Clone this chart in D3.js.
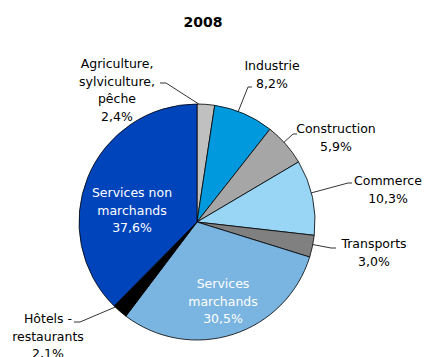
<!DOCTYPE html>
<html>
<head>
<meta charset="utf-8">
<script src="https://cdn.jsdelivr.net/npm/d3@7"></script>
<style>
  body { margin: 0; background: #fff; }
  text { font-family: "DejaVu Sans", Verdana, sans-serif; }
</style>
</head>
<body>
<svg id="chart" width="426" height="357"></svg>
<script>
// Répartition de l'emploi par secteur, 2008
const sectors = ["Agriculture, sylviculture, pêche", "Industrie", "Construction", "Commerce",
                 "Transports", "Services marchands", "Hôtels - restaurants", "Services non marchands"];
const shares = [2.4, 8.2, 5.9, 10.3, 3.0, 30.5, 2.1, 37.6];
const colors = ["#c0c0c0", "#0099dd", "#a6a6a6", "#99d5f5", "#808080", "#7ab4e0", "#000000", "#0044bb"];
// label lines per sector
const labelLines = [
  ["Agriculture,", "sylviculture,", "pêche", "2,4%"],
  ["Industrie", "8,2%"],
  ["Construction", "5,9%"],
  ["Commerce", "10,3%"],
  ["Transports", "3,0%"],
  ["Services", "marchands", "30,5%"],
  ["Hôtels -", "restaurants", "2,1%"],
  ["Services non", "marchands", "37,6%"]
];

const svg = d3.select("#chart");
const cx = 197, cy = 222, r = 118;

svg.append("text")
  .attr("x", cx + 6).attr("y", 27)
  .attr("text-anchor", "middle")
  .attr("font-size", 14).attr("font-weight", "bold")
  .text("2008");

const pie = d3.pie().sort(null).value(d => d.v);
const arcs = pie(shares.map((v, i) => ({ v, i })));
const arc = d3.arc().innerRadius(0).outerRadius(r);

const g = svg.append("g").attr("transform", `translate(${cx},${cy})`);
g.selectAll("path").data(arcs).enter().append("path")
  .attr("d", arc)
  .attr("fill", d => colors[d.data.i])
  .attr("stroke", "#000")
  .attr("stroke-width", 0.8);

// Outside label placement: text centre, first baseline, leader polyline
const lh = 17.5;
const outside = {
  0: { x: 117, y: 68, leader: [[160, 83], [166, 83], "edge"] },
  1: { x: 272, y: 70, leader: [[252, 87], [248, 87], "edge"] },
  2: { x: 336, y: 133, leader: [[297, 134], [293, 134], "edge"] },
  3: { x: 388, y: 185, leader: [[352, 183], [348, 183], "edge"] },
  4: { x: 374, y: 248, leader: [[336, 248], [331, 248], "edge"] },
  6: { x: 48, y: 323, leader: [[74, 322], [80, 322], "edge"] }
};
const inside = {
  5: { x: 223, y: 288 },
  7: { x: 132, y: 197 }
};

function edgePoint(a, target) {
  // point on the rim of the slice closest to the leader's origin
  const a0 = a.startAngle, a1 = a.endAngle;
  let best = null, bd = Infinity;
  for (let k = 0; k <= 40; k++) {
    const t = a0 + (a1 - a0) * (0.1 + 0.8 * k / 40);
    const px = cx + r * Math.sin(t), py = cy - r * Math.cos(t);
    const d = Math.hypot(px - target[0], py - target[1]);
    if (d < bd) { bd = d; best = [px, py]; }
  }
  return best;
}

arcs.forEach(a => {
  const i = a.data.i;
  const lines = labelLines[i];
  if (outside[i]) {
    const o = outside[i];
    const t = svg.append("text").attr("text-anchor", "middle").attr("font-size", 12.5).attr("fill", "#000");
    lines.forEach((s, k) => t.append("tspan").attr("x", o.x).attr("y", o.y + k * lh).text(s));
    const p0 = o.leader[0], p1 = o.leader[1];
    const p2 = edgePoint(a, p1);
    svg.append("polyline")
      .attr("points", [p0, p1, p2].map(p => p.join(",")).join(" "))
      .attr("fill", "none").attr("stroke", "#000").attr("stroke-width", 0.8);
  } else {
    const o = inside[i];
    const t = svg.append("text").attr("text-anchor", "middle").attr("font-size", 12.5).attr("fill", "#fff");
    lines.forEach((s, k) => t.append("tspan").attr("x", o.x).attr("y", o.y + k * lh).text(s));
  }
});
</script>
</body>
</html>
